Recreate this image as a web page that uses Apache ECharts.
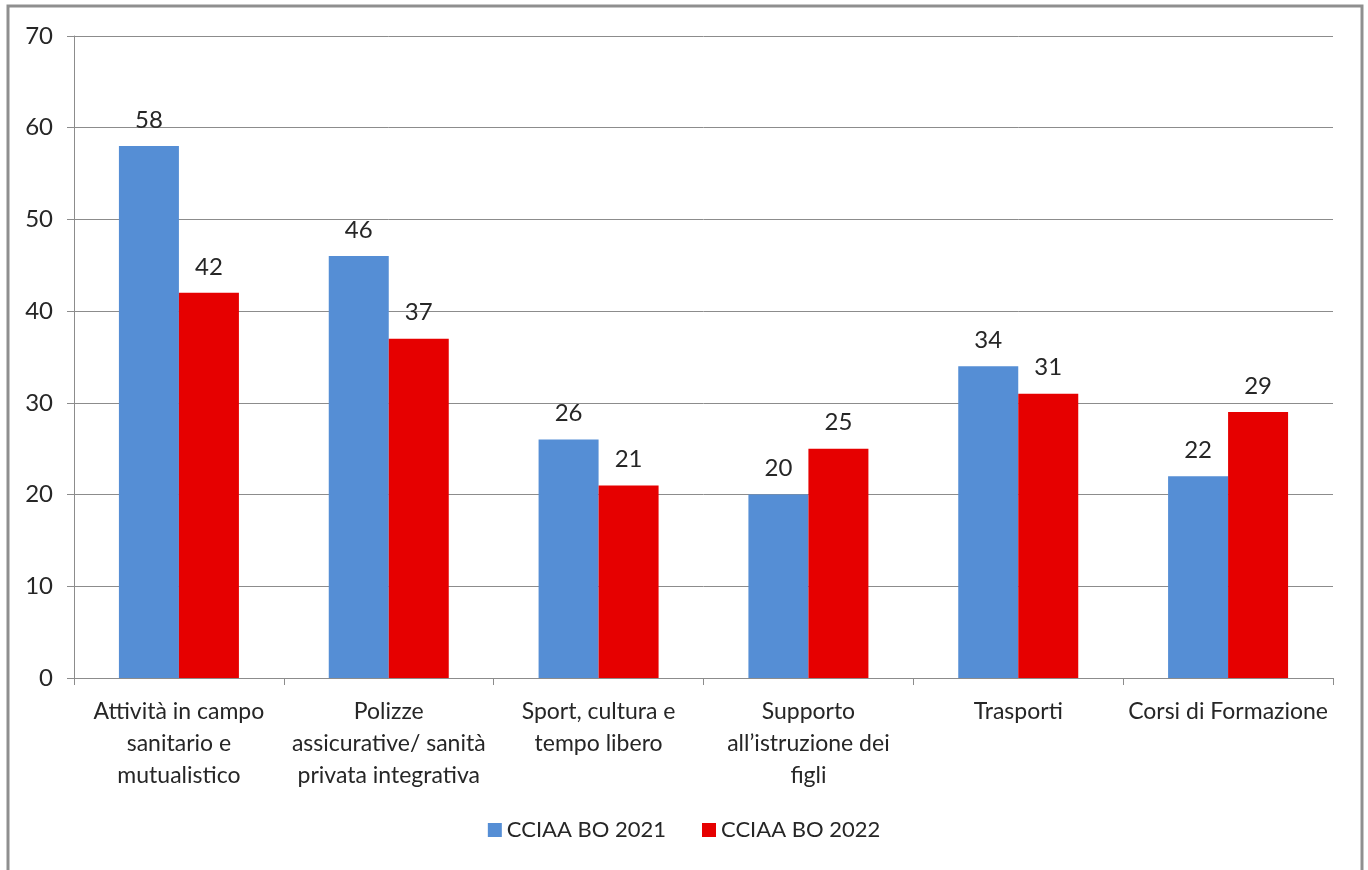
<!DOCTYPE html>
<html>
<head>
<meta charset="utf-8">
<style>
  html, body { margin: 0; padding: 0; background: #ffffff; }
  #chart { width: 1368px; height: 870px; }
</style>
<script src="https://cdn.jsdelivr.net/npm/echarts@6/dist/echarts.min.js"></script>
</head>
<body>
<div id="chart"></div>
<script>
// Benefit categories (x axis), values per year, y-axis range
const categories = [
  "Attività in campo\nsanitario e\nmutualistico",
  "Polizze\nassicurative/ sanità\nprivata integrativa",
  "Sport, cultura e\ntempo libero",
  "Supporto\nall’istruzione dei\nfigli",
  "Trasporti",
  "Corsi di Formazione"
];
const seriesNames = ["CCIAA BO 2021", "CCIAA BO 2022"];
const values2021 = [58, 46, 26, 20, 34, 22];
const values2022 = [42, 37, 21, 25, 31, 29];
const yMin = 0, yMax = 70, yStep = 10;

const FONT = "Lato";
const TEXT = "#262626";
const GRID = "#8c8c8c";
const colors = ["#558ed5", "#e60000"];

const chart = echarts.init(document.getElementById("chart"), null, { renderer: "canvas" });

function barSeries(name, data, color) {
  return {
    name: name,
    type: "bar",
    data: data,
    barWidth: 60,
    barGap: "0%",
    itemStyle: { color: color },
    label: {
      show: true,
      position: "top",
      distance: 14,
      color: TEXT,
      fontFamily: FONT,
      fontSize: 24
    }
  };
}

chart.setOption({
  animation: false,
  backgroundColor: "#ffffff",
  color: colors,
  graphic: [{
    type: "rect",
    shape: { x: 8, y: 6, width: 1354, height: 900 },
    style: { fill: null, stroke: "#8f8f8f", lineWidth: 3 },
    silent: true
  }],
  grid: { left: 74, right: 35, top: 36, bottom: 192, containLabel: false },
  legend: {
    data: seriesNames,
    bottom: 24,
    left: "center",
    itemWidth: 14,
    itemHeight: 14,
    itemGap: 36,
    icon: "rect",
    textStyle: { color: TEXT, fontFamily: FONT, fontSize: 22 }
  },
  xAxis: {
    type: "category",
    data: categories,
    axisLine: { show: true, lineStyle: { color: GRID, width: 1 } },
    axisTick: { show: true, length: 7, alignWithLabel: false, lineStyle: { color: GRID } },
    axisLabel: {
      color: TEXT,
      fontFamily: FONT,
      fontSize: 23,
      lineHeight: 32,
      margin: 18,
      interval: 0
    }
  },
  yAxis: {
    type: "value",
    min: yMin,
    max: yMax,
    interval: yStep,
    axisLine: { show: true, lineStyle: { color: GRID, width: 1 } },
    axisTick: { show: true, length: 7, lineStyle: { color: GRID } },
    splitLine: { show: true, lineStyle: { color: GRID, width: 1 } },
    axisLabel: { color: TEXT, fontFamily: FONT, fontSize: 24, margin: 21 }
  },
  series: [
    barSeries(seriesNames[0], values2021, colors[0]),
    barSeries(seriesNames[1], values2022, colors[1])
  ]
});
</script>
</body>
</html>
